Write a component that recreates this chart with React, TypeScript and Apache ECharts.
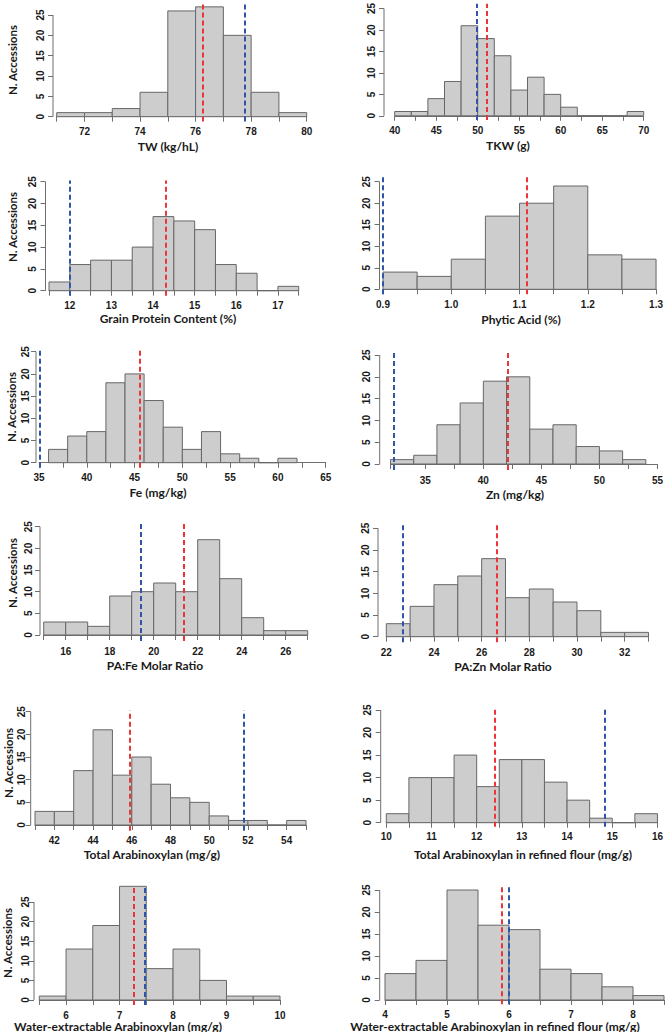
import React, { useEffect, useRef } from "react";
import * as echarts from "echarts";

// ---------- data ----------
const twBreaks = [71, 72, 73, 74, 75, 76, 77, 78, 79, 80];
const twCounts = [1, 1, 2, 6, 26, 27, 20, 6, 1];
const tkwBreaks = [40, 42, 44, 46, 48, 50, 52, 54, 56, 58, 60, 62, 64, 66, 68, 70];
const tkwCounts = [1, 1, 4, 8, 21, 18, 14, 6, 9, 5, 2, 0, 0, 0, 1];
const gpcBreaks = [11.5, 12, 12.5, 13, 13.5, 14, 14.5, 15, 15.5, 16, 16.5, 17, 17.5];
const gpcCounts = [2, 6, 7, 7, 10, 17, 16, 14, 6, 4, 0, 1];
const paBreaks = [0.9, 0.95, 1.0, 1.05, 1.1, 1.15, 1.2, 1.25, 1.3];
const paCounts = [4, 3, 7, 17, 20, 24, 8, 7];
const feBreaks = [36, 38, 40, 42, 44, 46, 48, 50, 52, 54, 56, 58, 60, 62];
const feCounts = [3, 6, 7, 18, 20, 14, 8, 3, 7, 2, 1, 0, 1];
const znBreaks = [32, 34, 36, 38, 40, 42, 44, 46, 48, 50, 52, 54];
const znCounts = [1, 2, 9, 14, 19, 20, 8, 9, 4, 3, 1];
const pafeBreaks = [15, 16, 17, 18, 19, 20, 21, 22, 23, 24, 25, 26, 27];
const pafeCounts = [3, 3, 2, 9, 10, 12, 10, 22, 13, 4, 1, 1];
const paznBreaks = [22, 23, 24, 25, 26, 27, 28, 29, 30, 31, 32, 33];
const paznCounts = [3, 7, 12, 14, 18, 9, 11, 8, 6, 1, 1];
const taxBreaks = [41, 42, 43, 44, 45, 46, 47, 48, 49, 50, 51, 52, 53, 54, 55];
const taxCounts = [3, 3, 12, 21, 11, 15, 9, 6, 5, 2, 1, 1, 0, 1];
const taxrBreaks = [10, 10.5, 11, 11.5, 12, 12.5, 13, 13.5, 14, 14.5, 15, 15.5, 16];
const taxrCounts = [2, 10, 10, 15, 8, 14, 14, 9, 5, 1, 0, 2];
const weBreaks = [5.5, 6, 6.5, 7, 7.5, 8, 8.5, 9, 9.5, 10];
const weCounts = [1, 13, 19, 29, 8, 13, 5, 1, 1];
const werBreaks = [4, 4.5, 5, 5.5, 6, 6.5, 7, 7.5, 8, 8.5];
const werCounts = [6, 9, 25, 17, 16, 7, 6, 3, 1];

// red = population mean, blue = reference value
const meanValues = [76.27, 51.1, 14.31, 1.115, 45.55, 42.1, 21.35, 26.65, 45.9, 12.41, 7.27, 5.89];
const refValues = [77.77, 49.85, 12.0, 0.898, 35.1, 32.3, 19.4, 22.7, 51.8, 14.83, 7.47, 6.0];

const titles = [
  "TW (kg/hL)",
  "TKW (g)",
  "Grain Protein Content (%)",
  "Phytic Acid (%)",
  "Fe (mg/kg)",
  "Zn (mg/kg)",
  "PA:Fe Molar Ratio",
  "PA:Zn Molar Ratio",
  "Total Arabinoxylan (mg/g)",
  "Total Arabinoxylan in refined flour (mg/g)",
  "Water-extractable Arabinoxylan (mg/g)",
  "Water-extractable Arabinoxylan in refined flour (mg/g)",
];
const yTitle = "N. Accessions";
const yTicks = [0, 5, 10, 15, 20, 25];

const xTicks = [
  [71, 72, 73, 74, 75, 76, 77, 78, 79, 80],
  [40, 42.5, 45, 47.5, 50, 52.5, 55, 57.5, 60, 62.5, 65, 67.5, 70],
  [11.5, 12, 12.5, 13, 13.5, 14, 14.5, 15, 15.5, 16, 16.5, 17, 17.5],
  [0.9, 0.95, 1.0, 1.05, 1.1, 1.15, 1.2, 1.25, 1.3],
  [35, 37.5, 40, 42.5, 45, 47.5, 50, 52.5, 55, 57.5, 60, 62.5, 65],
  [32, 35, 37.5, 40, 42.5, 45, 47.5, 50, 52.5, 55],
  [15, 16, 17, 18, 19, 20, 21, 22, 23, 24, 25, 26, 27],
  [22, 23, 24, 25, 26, 27, 28, 29, 30, 31, 32, 33],
  [41, 42, 43, 44, 45, 46, 47, 48, 49, 50, 51, 52, 53, 54, 55],
  [10, 10.5, 11, 11.5, 12, 12.5, 13, 13.5, 14, 14.5, 15, 15.5, 16],
  [5.5, 6, 6.5, 7, 7.5, 8, 8.5, 9, 9.5, 10],
  [4, 4.5, 5, 5.5, 6, 6.5, 7, 7.5, 8, 8.5],
];
const xLabels = [
  [72, 74, 76, 78, 80],
  [40, 45, 50, 55, 60, 65, 70],
  [12, 13, 14, 15, 16, 17],
  [0.9, 1.0, 1.1, 1.2, 1.3],
  [35, 40, 45, 50, 55, 60, 65],
  [35, 40, 45, 50, 55],
  [16, 18, 20, 22, 24, 26],
  [22, 24, 26, 28, 30, 32],
  [42, 44, 46, 48, 50, 52, 54],
  [10, 11, 12, 13, 14, 15, 16],
  [6, 7, 8, 9, 10],
  [4, 5, 6, 7, 8],
];
const xDecimals = [0, 0, 0, 1, 0, 0, 0, 0, 0, 0, 0, 0];

const allBreaks = [twBreaks, tkwBreaks, gpcBreaks, paBreaks, feBreaks, znBreaks, pafeBreaks, paznBreaks, taxBreaks, taxrBreaks, weBreaks, werBreaks];
const allCounts = [twCounts, tkwCounts, gpcCounts, paCounts, feCounts, znCounts, pafeCounts, paznCounts, taxCounts, taxrCounts, weCounts, werCounts];

// ---------- layout (pixels) ----------
const layout = [
  { left: 56.7, right: 306.7, zeroY: 116.7, y25: 15, lineTop: 4, axisY: 121.5, yAxisX: 53, yGap: 8, tx: 168, ty: 146 },
  { left: 394.7, right: 643.7, zeroY: 115.7, y25: 6, lineTop: 1, axisY: 120, yAxisX: 384, yGap: 8, tx: 508, ty: 145 },
  { left: 49, right: 298.7, zeroY: 290.7, y25: 181.7, lineTop: 180.5, axisY: 295.7, yAxisX: 45.5, yGap: 8, tx: 168, ty: 318 },
  { left: 383, right: 659.7, zeroY: 289.3, y25: 181.7, lineTop: 175.7, axisY: 294.3, yAxisX: 379.5, yGap: 8, tx: 521, ty: 319 },
  { left: 39, right: 325.7, zeroY: 462.7, y25: 351.7, lineTop: 350, axisY: 467.7, yAxisX: 36, yGap: 6, tx: 158, ty: 492 },
  { left: 390.5, right: 658, zeroY: 464, y25: 355, lineTop: 350, axisY: 470, yAxisX: 379.7, yGap: 8, tx: 515, ty: 494 },
  { left: 43.7, right: 307.7, zeroY: 635, y25: 526.7, lineTop: 524, axisY: 641, yAxisX: 40, yGap: 7, tx: 155, ty: 665 },
  { left: 386.3, right: 648.5, zeroY: 636.7, y25: 528.3, lineTop: 524, axisY: 642.3, yAxisX: 378, yGap: 8, tx: 503, ty: 666 },
  { left: 35, right: 306, zeroY: 825, y25: 711.7, lineTop: 710.5, axisY: 830.7, yAxisX: 30.7, yGap: 4, tx: 152, ty: 854 },
  { left: 386.3, right: 659, zeroY: 822.7, y25: 710, lineTop: 709, axisY: 826.7, yAxisX: 380.7, yGap: 8, tx: 523, ty: 854 },
  { left: 39.3, right: 280, zeroY: 1000, y25: 902, lineTop: 885, axisY: 1005, yAxisX: 34, yGap: 4, tx: 118, ty: 1026 },
  { left: 385, right: 664, zeroY: 1000, y25: 890, lineTop: 886, axisY: 1004.3, yAxisX: 379.7, yGap: 8, tx: 495, ty: 1026 },
];
const yTitlePos = [
  { x: 12, y: 60 },
  { x: 12, y: 227 },
  { x: 11, y: 407 },
  { x: 12, y: 573 },
  { x: 8, y: 763 },
  { x: 7, y: 943 },
];

const RED = "#EE3535";
const BLUE = "#2E55A8";
const AXIS = "#6F6F6F";
const TICK_FONT = "'Liberation Sans', Arial, sans-serif";
const TITLE_FONT = "Lato, 'Liberation Sans', sans-serif";

function buildOption() {
  const grid: any[] = [];
  const xAxis: any[] = [];
  const yAxis: any[] = [];
  const series: any[] = [];
  const graphic: any[] = [];

  layout.forEach((L, i) => {
    const breaks = allBreaks[i];
    const counts = allCounts[i];
    const xmin = xTicks[i][0];
    const xmax = xTicks[i][xTicks[i].length - 1];
    const ppu = (L.zeroY - L.y25) / 25;
    const ymin = -(L.axisY - L.zeroY) / ppu;
    const ymax = (L.zeroY - L.lineTop) / ppu;
    const yOffset = L.left - L.yAxisX;
    const dec = xDecimals[i];

    grid.push({ left: L.left, top: L.lineTop, width: L.right - L.left, height: L.axisY - L.lineTop, containLabel: false });
    xAxis.push({
      type: "value",
      gridIndex: i,
      min: xmin,
      max: xmax,
      splitLine: { show: false },
      axisLine: { show: true, lineStyle: { color: AXIS, width: 1 } },
      axisTick: { show: true, length: 5, customValues: xTicks[i], lineStyle: { color: AXIS } },
      axisLabel: {
        customValues: xLabels[i],
        formatter: (v: number) => v.toFixed(dec),
        fontFamily: TICK_FONT,
        fontWeight: "bold",
        fontSize: 10,
        color: "#1a1a1a",
        margin: 5,
      },
    });
    yAxis.push({
      type: "value",
      gridIndex: i,
      min: ymin,
      max: ymax,
      offset: yOffset,
      splitLine: { show: false },
      axisLine: { show: false },
      axisTick: { show: true, length: 5, customValues: yTicks, lineStyle: { color: AXIS } },
      axisLabel: {
        customValues: yTicks,
        rotate: 90,
        fontFamily: TICK_FONT,
        fontWeight: "bold",
        fontSize: 10,
        color: "#1a1a1a",
        margin: L.yGap,
      },
    });

    const binData = counts.map((c, k) => [breaks[k], breaks[k + 1], c]);
    series.push({
      type: "custom",
      xAxisIndex: i,
      yAxisIndex: i,
      data: binData,
      encode: { x: [0, 1], y: 2 },
      renderItem: (params: any, api: any) => {
        const p0 = api.coord([api.value(0), api.value(2)]);
        const p1 = api.coord([api.value(1), 0]);
        return {
          type: "rect",
          shape: { x: p0[0], y: p0[1], width: p1[0] - p0[0], height: p1[1] - p0[1] },
          style: { fill: "#CDCDCD", stroke: "#676767", lineWidth: 1 },
        };
      },
      markLine: {
        silent: true,
        symbol: ["none", "none"],
        label: { show: false },
        lineStyle: { type: [5, 3], width: 2 },
        data: [
          { xAxis: refValues[i], lineStyle: { color: BLUE, type: [5, 3], width: 2 } },
          { xAxis: meanValues[i], lineStyle: { color: RED, type: [5, 3], width: 2 } },
        ],
      },
    });
    // y-axis line from 0 to 25 (R style, offset from plot)
    series.push({
      type: "custom",
      xAxisIndex: i,
      yAxisIndex: i,
      data: [[xmin, 0, 25]],
      silent: true,
      renderItem: (params: any, api: any) => {
        const a = api.coord([api.value(0), api.value(1)]);
        const b = api.coord([api.value(0), api.value(2)]);
        return {
          type: "line",
          shape: { x1: a[0] - yOffset, y1: a[1], x2: b[0] - yOffset, y2: b[1] },
          style: { stroke: AXIS, lineWidth: 1 },
        };
      },
    });

    graphic.push({
      type: "text",
      x: L.tx,
      y: L.ty,
      style: {
        text: titles[i],
        fontFamily: TITLE_FONT,
        fontWeight: "bold",
        fontSize: 12,
        fill: "#1a1a1a",
        align: "center",
        verticalAlign: "middle",
      },
    });
  });

  yTitlePos.forEach((p) => {
    graphic.push({
      type: "text",
      x: p.x,
      y: p.y,
      rotation: Math.PI / 2,
      style: {
        text: yTitle,
        fontFamily: TITLE_FONT,
        fontWeight: "bold",
        fontSize: 11.5,
        fill: "#1a1a1a",
        align: "center",
        verticalAlign: "middle",
      },
    });
  });

  return { animation: false, backgroundColor: "#ffffff", grid, xAxis, yAxis, series, graphic };
}

export default function App() {
  const ref = useRef<HTMLDivElement>(null);
  useEffect(() => {
    if (!ref.current) return;
    const chart = echarts.init(ref.current, undefined, { renderer: "svg" });
    chart.setOption(buildOption() as any);
    return () => chart.dispose();
  }, []);
  return (
    <div
      ref={ref}
      style={{ position: "absolute", left: 0, top: 0, width: 666, height: 1032, background: "#fff" }}
    />
  );
}
